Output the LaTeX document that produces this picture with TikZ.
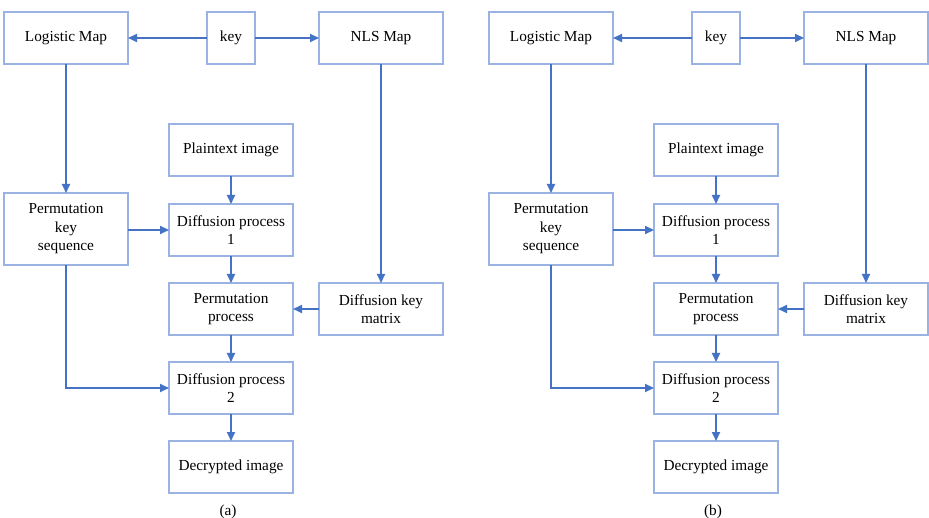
\documentclass[tikz,border=0pt]{standalone}
\usepackage{fontspec}
\setmainfont{Liberation Serif}
\usetikzlibrary{arrows.meta}
\definecolor{boxc}{HTML}{9AB3E2}
\definecolor{arrc}{HTML}{4472C4}
\newcommand\drawpanel[3]{%
\begin{scope}[xshift=#2]
\node[box,minimum width=124,minimum height=52] (#1lm) at (66,38) {Logistic Map};
\node[box,minimum width=48,minimum height=52] (#1key) at (231,38) {key};
\node[box,minimum width=124,minimum height=52] (#1nls) at (381,38) {NLS Map};
\node[box,minimum width=124,minimum height=52] (#1pt) at (231,150) {Plaintext image};
\node[box,minimum width=124,minimum height=72] (#1pks) at (66,229) {Permutation\\key\\sequence};
\node[box,minimum width=124,minimum height=52] (#1d1) at (231,230) {Diffusion process\\1};
\node[box,minimum width=124,minimum height=52] (#1pp) at (231,309) {Permutation\\process};
\node[box,minimum width=124,minimum height=52] (#1dkm) at (381,309) {Diffusion key\\matrix};
\node[box,minimum width=124,minimum height=52] (#1d2) at (231,388) {Diffusion process\\2};
\node[box,minimum width=124,minimum height=52] (#1di) at (231,467) {Decrypted image};
\node[lbl] (#1cap) at (228,512) {#3};
\end{scope}
\draw[arr] (#1key) -- (#1lm);
\draw[arr] (#1key) -- (#1nls);
\draw[arr] (#1lm) -- (#1pks);
\draw[arr] (#1nls) -- (#1dkm);
\draw[arr] (#1pt) -- (#1d1);
\draw[arr] (#1pks.east |- #1d1.west) -- (#1d1.west);
\draw[arr] (#1d1) -- (#1pp);
\draw[arr] (#1dkm) -- (#1pp);
\draw[arr] (#1pp) -- (#1d2);
\draw[arr] (#1pks.south) |- (#1d2.west);
\draw[arr] (#1d2) -- (#1di);
}
\begin{document}
\begin{tikzpicture}[x=1pt,y=-1pt,
  box/.style={draw=boxc,line width=2pt,inner sep=0pt,outer sep=0pt,align=center,font=\fontsize{15.3}{18.5}\selectfont,text=black},
  lbl/.style={inner sep=0pt,font=\fontsize{15.3}{18}\selectfont,text=black},
  arr/.style={draw=arrc,line width=2pt,-{Triangle[length=9pt,width=8pt]}}]
\useasboundingbox[fill=white] (0,0) rectangle (929,518);
\drawpanel{a}{0}{(a)}
\drawpanel{b}{485}{(b)}
\end{tikzpicture}
\end{document}
